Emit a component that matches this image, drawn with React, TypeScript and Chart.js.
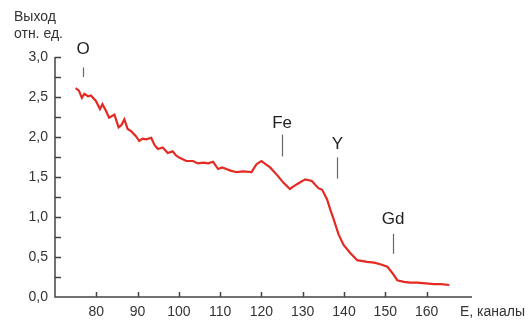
import React, { useEffect, useRef } from "react";
import { Chart, registerables } from "chart.js";

Chart.register(...registerables);

// Channel number (E, каналы)
const channels: number[] = [
  75.0, 75.8, 76.5, 77.1, 78.0, 78.7, 79.9, 80.9, 81.5, 82.3, 83.1, 84.4, 85.4, 86.1, 86.8, 87.6,
  88.5, 89.6, 90.4, 91.2, 92.1, 93.3, 94.1, 94.9, 96.1, 97.3, 98.5, 99.3, 100.2, 101.8, 103.4,
  104.6, 106.0, 107.1, 108.3, 109.5, 110.5, 111.5, 112.5, 114.0, 115.5, 117.6, 118.8, 120.0,
  121.0, 122.1, 123.7, 125.3, 126.9, 127.7, 128.6, 130.6, 132.2, 133.8, 134.7, 135.9, 136.7,
  137.5, 138.7, 139.9, 141.5, 143.2, 145.6, 147.3, 148.8, 150.5, 151.7, 152.9, 154.5, 156.0,
  157.8, 159.8, 161.8, 163.5, 165.5,
];
// Yield (отн. ед.)
const yieldValues: number[] = [
  2.61, 2.58, 2.49, 2.54, 2.51, 2.52, 2.45, 2.35, 2.41, 2.33, 2.24, 2.28, 2.12, 2.15, 2.22, 2.1,
  2.07, 2.01, 1.95, 1.98, 1.97, 1.99, 1.9, 1.85, 1.87, 1.8, 1.82, 1.77, 1.74, 1.7, 1.7,
  1.67, 1.68, 1.67, 1.69, 1.6, 1.62, 1.6, 1.58, 1.56, 1.57, 1.56, 1.66, 1.7,
  1.66, 1.62, 1.53, 1.43, 1.35, 1.38, 1.41, 1.47, 1.45, 1.36, 1.34, 1.22, 1.09,
  0.97, 0.78, 0.65, 0.55, 0.46, 0.44, 0.43, 0.41, 0.38, 0.3, 0.21, 0.19, 0.18,
  0.18, 0.17, 0.16, 0.16, 0.15,
];

// Element markers
const markerLabels: string[] = ["O", "Fe", "Y", "Gd"];
const markerX: number[] = [76.8, 125.0, 138.4, 151.9];
const markerTextY: number[] = [3.1, 2.17, 1.91, 0.97];
const markerLineTop: number[] = [2.87, 2.03, 1.745, 0.79];
const markerLineBottom: number[] = [2.75, 1.757, 1.48, 0.54];

const xTickValues: number[] = [80, 90, 100, 110, 120, 130, 140, 150, 160];
const yTickValues: number[] = [0.25, 0.5, 0.75, 1.0, 1.25, 1.5, 1.75, 2.0, 2.25, 2.5, 2.75, 3.0];

const FONT = "'Liberation Sans', Arial, sans-serif";
const AXIS_COLOR = "#444";

const decorPlugin = {
  id: "decor",
  afterDraw(chart: any) {
    const ctx = chart.ctx;
    const xs = chart.scales.x;
    const ys = chart.scales.y;
    const { left, right, top, bottom } = chart.chartArea;
    ctx.save();
    // axes
    ctx.strokeStyle = AXIS_COLOR;
    ctx.lineWidth = 1.5;
    ctx.beginPath();
    ctx.moveTo(left, top);
    ctx.lineTo(left, bottom);
    ctx.lineTo(right, bottom);
    ctx.stroke();
    // inward ticks
    ctx.beginPath();
    yTickValues.forEach((v) => {
      const py = Math.round(ys.getPixelForValue(v)) + 0.5;
      ctx.moveTo(left, py);
      ctx.lineTo(left + 6, py);
    });
    xTickValues.forEach((v) => {
      const px = Math.round(xs.getPixelForValue(v)) + 0.5;
      ctx.moveTo(px, bottom);
      ctx.lineTo(px, bottom - 5);
    });
    ctx.stroke();
    // markers
    ctx.strokeStyle = "#666";
    ctx.lineWidth = 1.2;
    ctx.fillStyle = "#222";
    ctx.font = `17px ${FONT}`;
    ctx.textAlign = "center";
    ctx.textBaseline = "middle";
    markerLabels.forEach((lab, i) => {
      const px = xs.getPixelForValue(markerX[i]);
      ctx.fillText(lab, px, ys.getPixelForValue(markerTextY[i]));
      ctx.beginPath();
      ctx.moveTo(Math.round(px) + 0.5, ys.getPixelForValue(markerLineTop[i]));
      ctx.lineTo(Math.round(px) + 0.5, ys.getPixelForValue(markerLineBottom[i]));
      ctx.stroke();
    });
    // axis titles
    ctx.fillStyle = "#333";
    ctx.font = `14px ${FONT}`;
    ctx.textAlign = "left";
    ctx.fillText("Выход", 14, 17);
    ctx.fillText("отн. ед.", 14, 34);
    ctx.fillText("E, каналы", 460, 312);
    ctx.restore();
  },
};

export default function App() {
  const canvasRef = useRef<HTMLCanvasElement | null>(null);

  useEffect(() => {
    if (!canvasRef.current) return;
    const points = channels.map((c, i) => ({ x: c, y: yieldValues[i] }));
    const chart = new Chart(canvasRef.current, {
      type: "line",
      data: {
        datasets: [
          {
            data: points,
            borderColor: "#e42a22",
            borderWidth: 2.2,
            pointRadius: 0,
            tension: 0,
            fill: false,
          },
        ],
      },
      options: {
        animation: false,
        responsive: true,
        maintainAspectRatio: false,
        layout: { padding: { left: 8, top: 57, right: 60, bottom: 0 } },
        plugins: { legend: { display: false }, tooltip: { enabled: false } },
        scales: {
          x: {
            type: "linear",
            min: 70,
            max: 171,
            afterFit: (scale: any) => {
              scale.height = 26;
            },
            border: { display: false },
            grid: { display: true, drawOnChartArea: false, drawTicks: false },
            ticks: {
              stepSize: 10,
              autoSkip: false,
              maxRotation: 0,
              padding: 7,
              color: "#333",
              font: { family: FONT, size: 14 },
              callback: (v: any) => (v >= 80 && v <= 160 && v % 10 === 0 ? String(v) : ""),
            },
          },
          y: {
            min: 0,
            max: 3,
            afterFit: (scale: any) => {
              scale.width = 47;
            },
            border: { display: false },
            grid: { display: true, drawOnChartArea: false, drawTicks: false },
            ticks: {
              stepSize: 0.25,
              autoSkip: false,
              padding: 7,
              color: "#333",
              font: { family: FONT, size: 14 },
              callback: (v: any) => {
                const n = Number(v);
                return Math.abs(n * 2 - Math.round(n * 2)) < 1e-6 ? n.toFixed(1).replace(".", ",") : "";
              },
            },
          },
        },
      },
      plugins: [decorPlugin],
    });
    return () => chart.destroy();
  }, []);

  return (
    <div style={{ position: "fixed", left: 0, top: 0, width: 532, height: 323, background: "#fff" }}>
      <canvas ref={canvasRef} />
    </div>
  );
}
